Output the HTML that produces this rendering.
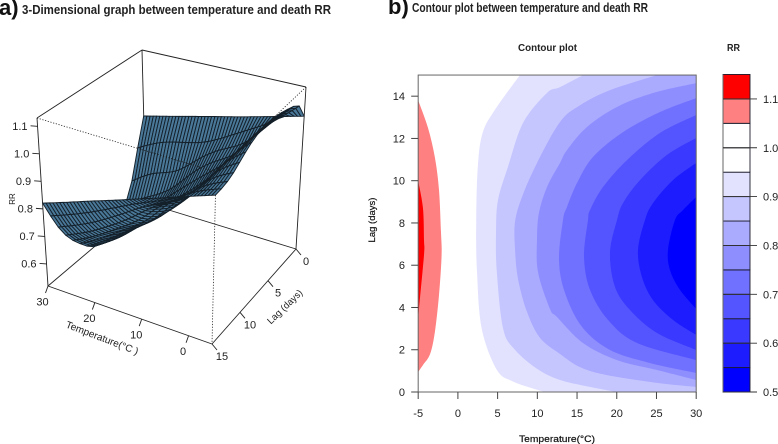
<!DOCTYPE html>
<html lang="en">
<head>
<meta charset="utf-8">
<title>Temperature and death RR</title>
<style>
html,body{margin:0;padding:0;background:#fff;}
svg{display:block;font-family:"Liberation Sans",sans-serif;}
</style>
</head>
<body>
<svg id="chart" xmlns="http://www.w3.org/2000/svg" width="778" height="444" viewBox="0 0 778 444">
  <rect width="778" height="444" fill="#fff"/>
  <text x="-1" y="15" font-size="22" font-weight="700" fill="#111">a)</text>
  <text x="22" y="14" font-size="12.5" font-weight="700" fill="#222" textLength="309" lengthAdjust="spacingAndGlyphs">3-Dimensional graph between temperature and death RR</text>
  <text x="388" y="14" font-size="22" font-weight="700" fill="#111">b)</text>
  <text x="412" y="12" font-size="12.5" font-weight="700" fill="#222" textLength="236" lengthAdjust="spacingAndGlyphs">Contour plot between temperature and death RR</text>
  <g id="panel3d"></g>
  <g id="panelContour"></g>
  <g id="panelBar"></g>
  <text x="518" y="51" font-size="10.5" font-weight="700" fill="#222" textLength="59" lengthAdjust="spacingAndGlyphs">Contour plot</text>
  <text x="727" y="51" font-size="10.5" font-weight="700" fill="#222" textLength="13" lengthAdjust="spacingAndGlyphs">RR</text>
  <text x="557" y="442" text-anchor="middle" font-size="9.5" fill="#111" stroke="#111" stroke-width="0.2" textLength="76" lengthAdjust="spacingAndGlyphs">Temperature(°C)</text>
  <text transform="translate(375,220) rotate(-90)" text-anchor="middle" font-size="9.5" fill="#111" stroke="#111" stroke-width="0.2">Lag (days)</text>
  <text transform="translate(15,199) rotate(-90)" text-anchor="middle" font-size="8" fill="#222">RR</text>
  <text transform="translate(101,341) rotate(21)" text-anchor="middle" font-size="10" fill="#222">Temperature(°C )</text>
  <text transform="translate(287,309) rotate(-44)" text-anchor="middle" font-size="9.5" fill="#222">Lag (days)</text>
</svg>
<script>
// ---------- data ----------
const surfaceTemps = [-5, 0, 5, 10, 15, 20, 25, 30];
const surfaceLags = [0, 1, 2, 4, 7, 10, 12.5, 15];
const rrLag0 = [1.02, 0.998, 0.976, 0.954, 0.933, 0.911, 0.889, 0.867];
const rrLag1 = [1.08, 1.005, 0.95, 0.90, 0.855, 0.83, 0.805, 0.76];
const rrLag2 = [1.10, 1.01, 0.92, 0.87, 0.81, 0.74, 0.705, 0.65];
const rrLag4 = [1.12, 1.02, 0.905, 0.825, 0.75, 0.67, 0.595, 0.55];
const rrLag7 = [1.13, 1.02, 0.90, 0.80, 0.715, 0.645, 0.57, 0.51];
const rrLag10 = [1.10, 1.02, 0.905, 0.84, 0.75, 0.685, 0.625, 0.575];
const rrLag12 = [1.06, 1.01, 0.93, 0.88, 0.82, 0.76, 0.71, 0.67];
const rrLag15 = [1.048, 1.016, 0.983, 0.951, 0.918, 0.886, 0.853, 0.821];
const surfaceRows = [rrLag0, rrLag1, rrLag2, rrLag4, rrLag7, rrLag10, rrLag12, rrLag15];

const zTicks = [0.6, 0.7, 0.8, 0.9, 1.0, 1.1];
const tempTicks3d = [0, 10, 20, 30];
const lagTicks3d = [0, 5, 10, 15];
const xTicks = [-5, 0, 5, 10, 15, 20, 25, 30];
const yTicks = [0, 2, 4, 6, 8, 10, 12, 14];
const keyTicks = [0.5, 0.6, 0.7, 0.8, 0.9, 1.0, 1.1];
const keyBreaks = [0.5, 0.55, 0.6, 0.65, 0.7, 0.75, 0.8, 0.85, 0.9, 0.95, 1.0, 1.05, 1.1, 1.15];
const keyColors = ["#0000FF", "#1C1CFF", "#3939FF", "#5555FF", "#7171FF", "#8E8EFF", "#AAAAFF", "#C6C6FF", "#E2E2FF", "#FFFFFF", "#FFFFFF", "#FF8080", "#FF0000"];

// contour lines as [temperature, lag] pairs
const contour095 = [[7.8,15],[4.65,13.35],[3.1,12.25],[2.5,10.65],[2.3,8],[2.4,5.7],[3,3],[4.9,1.05],[6.9,0.5],[10,0.1],[11,0]];
const contour090 = [[15.75,15],[12.85,14.43],[11.2,14.15],[8.2,12.73],[6.3,10.65],[5.05,9.09],[4.8,7.57],[4.9,5.68],[5.7,2.98],[7.2,1.99],[10,1.09],[12.85,0.57],[16.6,0.24],[20,0]];
const contour085 = [[25.07,15],[19.15,14.29],[15.4,13.58],[12.85,12.78],[9.96,10.84],[8.07,9.23],[7.19,8.05],[7.19,6.77],[7.57,5.35],[8.7,3.79],[10.34,2.56],[12.85,1.8],[15.37,1.18],[18.77,0.8],[25.07,0.43],[30,0.24]];
const contour080 = [[30,14.62],[24.56,14.15],[20.03,13.49],[16.25,12.54],[13.73,11.45],[12.85,10.84],[11.22,9.7],[10.2,8.47],[9.96,7.24],[10.08,5.68],[11.6,3.93],[12.48,3.55],[15.75,2.32],[20.03,1.51],[25.07,1.04],[30,0.57]];
const contour075 = [[30,13.91],[25.45,13.25],[20.79,12.3],[17,11.12],[15,9.89],[13.73,8.76],[13.23,8.14],[12.73,6.25],[13.48,4.69],[15.62,3.08],[19.15,1.99],[24.2,1.37],[30,0.9]];
const contour070 = [[30,13.11],[25.45,12.26],[21.3,10.98],[18.27,9.7],[16.63,8.61],[16.38,8.14],[15.88,6.39],[16.63,4.83],[18.9,3.41],[22.55,2.32],[30,1.51]];
const contour065 = [[30,12.02],[26.33,11.22],[22.93,10.03],[20.79,8.94],[20.03,8.14],[19.15,6.58],[19.78,4.97],[21.67,3.88],[25.07,2.79],[30,1.99]];
const contour060 = [[30,10.84],[27.08,10.03],[24.56,8.94],[23.56,8.14],[22.67,6.72],[23.18,5.44],[24.56,4.35],[27.08,3.41],[30,2.7]];
const contour055 = [[30,9.23],[28.34,8.61],[27.33,8.14],[26.45,6.72],[26.7,5.77],[27.96,4.83],[30,3.93]];
const contour105 = [[-5,13.8],[-3.76,12.5],[-2.9,11.1],[-2.38,9.56],[-2.13,7.57],[-2.05,6.48],[-2.38,4.59],[-2.9,2.84],[-3.5,1.8],[-4.4,1.28],[-5,0.95]];
const contour110 = [[-5,9.99],[-4.4,8.7],[-4.27,7.19],[-4.27,6.48],[-4.9,3.93],[-5,3.55]];

// ---------- helpers ----------
const NS = "http://www.w3.org/2000/svg";
function mk(parent, tag, attrs, txt) {
  const el = document.createElementNS(NS, tag);
  for (const k in attrs) el.setAttribute(k, attrs[k]);
  if (txt !== undefined) el.textContent = txt;
  parent.appendChild(el);
  return el;
}
function fmt(v) { return v.toFixed(1); }

// ---------- 3D projection ----------
const tMin = -5, tMax = 30, lMin = 0, lMax = 15, zMin = 0.52, zMax = 1.13;
const boxFarBottom = [146, 203], boxFarTop = [142, 50];
const boxLeftBottom = [48, 286], boxLeftTop = [37, 118];
const boxRightBottom = [296, 249], boxRightTop = [306, 87];
const boxNearBottom = [212, 344], boxNearTop = [216, 172];
function mix(a, b, f) { return [a[0] + (b[0] - a[0]) * f, a[1] + (b[1] - a[1]) * f]; }
function project(T, L, Z) {
  const t = (T - tMin) / (tMax - tMin), l = (L - lMin) / (lMax - lMin), z = (Z - zMin) / (zMax - zMin);
  const bottom = mix(mix(boxRightBottom, boxNearBottom, l), mix(boxFarBottom, boxLeftBottom, l), t);
  const top = mix(mix(boxRightTop, boxNearTop, l), mix(boxFarTop, boxLeftTop, l), t);
  return mix(bottom, top, z);
}
function splineAt(xs, ys, x) {
  const n = xs.length, m = new Array(n).fill(0), c = new Array(n).fill(0), d = new Array(n).fill(0);
  for (let i = 1; i < n - 1; i++) {
    const h0 = xs[i] - xs[i - 1], h1 = xs[i + 1] - xs[i];
    const b = 2 * (h0 + h1) - h0 * c[i - 1];
    c[i] = h1 / b;
    d[i] = (6 * ((ys[i + 1] - ys[i]) / h1 - (ys[i] - ys[i - 1]) / h0) - h0 * d[i - 1]) / b;
  }
  for (let i = n - 2; i > 0; i--) m[i] = d[i] - c[i] * m[i + 1];
  let k = 0;
  while (k < n - 2 && x > xs[k + 1]) k++;
  const h = xs[k + 1] - xs[k], a = (xs[k + 1] - x) / h, b = (x - xs[k]) / h;
  return a * ys[k] + b * ys[k + 1] + ((a * a * a - a) * m[k] + (b * b * b - b) * m[k + 1]) * h * h / 6;
}
function surfaceAt(T, L) {
  const col = surfaceRows.map(function (row) { return splineAt(surfaceTemps, row, T); });
  return splineAt(surfaceLags, col, L);
}

// ---------- draw 3D panel ----------
(function () {
  const g = document.getElementById("panel3d");
  const solid = { stroke: "#222", "stroke-width": 0.9, fill: "none" };
  function boxLine(parent, a, b, attrs, name) {
    const el = mk(parent, "line", Object.assign({ x1: a[0], y1: a[1], x2: b[0], y2: b[1] }, attrs));
    
    
    return el;
  }
  boxLine(g, boxFarBottom, boxLeftBottom, solid, "box-floor-edge");
  boxLine(g, boxFarBottom, boxRightBottom, solid, "box-floor-edge");
  boxLine(g, boxFarBottom, boxFarTop, solid, "box-back-vertical");
  boxLine(g, boxLeftBottom, boxLeftTop, solid, "box-left-vertical");
  boxLine(g, boxRightBottom, boxRightTop, solid, "box-right-vertical");
  boxLine(g, boxLeftTop, boxFarTop, solid, "box-top-edge");
  boxLine(g, boxFarTop, boxRightTop, solid, "box-top-edge");
  boxLine(g, boxLeftBottom, boxNearBottom, solid, "temperature-axis-line");
  boxLine(g, boxNearBottom, boxRightBottom, solid, "lag-axis-line");

  const nT = 49, nL = 15;
  const grid = [];
  for (let i = 0; i <= nT; i++) {
    const T = tMax - (tMax - tMin) * i / nT;
    const col = surfaceRows.map(function (row) { return splineAt(surfaceTemps, row, T); });
    const line = [];
    for (let j = 0; j <= nL; j++) {
      const L = lMin + (lMax - lMin) * j / nL;
      line.push(project(T, L, splineAt(surfaceLags, col, L)));
    }
    grid.push(line);
  }
  const mesh = mk(g, "g", { stroke: "#14202a", "stroke-width": 0.95, "stroke-linejoin": "round", fill: "#4a7898" });
  
  
  for (let i = 0; i < nT; i++) {
    for (let j = 0; j < nL; j++) {
      const pts = [grid[i][j], grid[i + 1][j], grid[i + 1][j + 1], grid[i][j + 1]]
        .map(function (p) { return p[0].toFixed(1) + "," + p[1].toFixed(1); }).join(" ");
      const f = mk(mesh, "polygon", { points: pts });
      
      
    }
  }

  const dotted = { stroke: "#222", "stroke-width": 0.8, "stroke-dasharray": "1.2 1.6", fill: "none" };
  boxLine(g, boxLeftTop, boxNearTop, dotted, "box-front-top-edge");
  boxLine(g, boxRightTop, boxNearTop, dotted, "box-front-top-edge");
  boxLine(g, project(tMin, lMax, surfaceAt(tMin, lMax)), boxNearBottom, dotted, "box-front-vertical");

  const tickStroke = { stroke: "#222", "stroke-width": 0.9 };
  const labelStyle = { "font-size": 11, fill: "#222" };
  zTicks.forEach(function (v) {
    const p = project(tMax, lMax, v);
    boxLine(g, p, [p[0] - 7, p[1] - 0.5], tickStroke, "z-axis-tick");
    const t = mk(g, "text", Object.assign({ x: p[0] - 10, y: p[1] + 3.5, "text-anchor": "end" }, labelStyle), fmt(v));
    
    
  });
  tempTicks3d.forEach(function (v) {
    const p = project(v, lMax, zMin);
    boxLine(g, p, [p[0] - 2.5, p[1] + 7], tickStroke, "temperature-axis-tick");
    const t = mk(g, "text", Object.assign({ x: p[0] - 5.5, y: p[1] + 19.5, "text-anchor": "middle" }, labelStyle), String(v));
    
    
  });
  lagTicks3d.forEach(function (v) {
    const p = project(tMin, v, zMin);
    boxLine(g, p, [p[0] + 5, p[1] + 6], tickStroke, "lag-axis-tick");
    const t = mk(g, "text", Object.assign({ x: p[0] + 10, y: p[1] + 16, "text-anchor": "middle" }, labelStyle), String(v));
    
    
  });
})();

// ---------- contour panel ----------
function xScale(T) { return 457.9 + 7.943 * T; }
function yScale(L) { return 392 - 21.13 * L; }
function smoothPath(line) {
  const p = line.map(function (q) { return [xScale(q[0]), yScale(q[1])]; });
  let d = "M" + p[0][0].toFixed(1) + " " + p[0][1].toFixed(1);
  for (let i = 0; i < p.length - 1; i++) {
    const a = p[Math.max(i - 1, 0)], b = p[i], c = p[i + 1], e = p[Math.min(i + 2, p.length - 1)];
    const c1x = b[0] + (c[0] - a[0]) / 6, c1y = b[1] + (c[1] - a[1]) / 6;
    const c2x = c[0] - (e[0] - b[0]) / 6, c2y = c[1] - (e[1] - b[1]) / 6;
    d += "C" + c1x.toFixed(1) + " " + c1y.toFixed(1) + " " + c2x.toFixed(1) + " " + c2y.toFixed(1) + " " + c[0].toFixed(1) + " " + c[1].toFixed(1);
  }
  return d;
}
(function () {
  const g = document.getElementById("panelContour");
  const defs = mk(g, "defs", {});
  const clip = mk(defs, "clipPath", { id: "plotClip" });
  mk(clip, "rect", { x: xScale(-5), y: yScale(15), width: xScale(30) - xScale(-5), height: yScale(0) - yScale(15) });
  const bands = mk(g, "g", { "clip-path": "url(#plotClip)" });
  
  
  function region(line, color, name, closeRight) {
    let d = smoothPath(line);
    if (closeRight) {
      d += "L" + xScale(31).toFixed(1) + " " + yScale(line[line.length - 1][1]).toFixed(1);
      d += "L" + xScale(31).toFixed(1) + " " + yScale(line[0][1]).toFixed(1);
    }
    d += "Z";
    const el = mk(bands, "path", { d: d, fill: color });
    
    
  }
  region(contour095, keyColors[8], "band-0-90-to-0-95", true);
  region(contour090, keyColors[7], "band-0-85-to-0-90", true);
  region(contour085, keyColors[6], "band-0-80-to-0-85", true);
  region(contour080, keyColors[5], "band-0-75-to-0-80", true);
  region(contour075, keyColors[4], "band-0-70-to-0-75", true);
  region(contour070, keyColors[3], "band-0-65-to-0-70", true);
  region(contour065, keyColors[2], "band-0-60-to-0-65", true);
  region(contour060, keyColors[1], "band-0-55-to-0-60", true);
  region(contour055, keyColors[0], "band-0-50-to-0-55", true);
  region(contour105, keyColors[11], "band-1-05-to-1-10", false);
  region(contour110, keyColors[12], "band-1-10-to-1-15", false);

  const frame = mk(g, "rect", { x: xScale(-5), y: yScale(15), width: xScale(30) - xScale(-5), height: yScale(0) - yScale(15), fill: "none", stroke: "#666", "stroke-width": 1 });
  
  

  xTicks.forEach(function (v) {
    const x = xScale(v);
    const l = mk(g, "line", { x1: x, x2: x, y1: yScale(0), y2: yScale(0) + 7, stroke: "#444", "stroke-width": 1 });
    
    
    const t = mk(g, "text", { x: x, y: 417, "text-anchor": "middle", "font-size": 11, fill: "#222" }, String(v));
    
    
  });
  yTicks.forEach(function (v) {
    const y = yScale(v);
    const l = mk(g, "line", { x1: xScale(-5) - 7, x2: xScale(-5), y1: y, y2: y, stroke: "#444", "stroke-width": 1 });
    
    
    const t = mk(g, "text", { x: 405, y: y + 4, "text-anchor": "end", "font-size": 11, fill: "#222" }, String(v));
    
    
  });
})();

// ---------- colour key ----------
function keyScale(v) { return 392 - (v - 0.5) * 488.5; }
(function () {
  const g = document.getElementById("panelBar");
  keyColors.forEach(function (c, i) {
    const y0 = keyScale(keyBreaks[i + 1]), y1 = keyScale(keyBreaks[i]);
    const r = mk(g, "rect", { x: 723, y: y0, width: 27, height: y1 - y0, fill: c, stroke: "#1a1a2a", "stroke-width": 0.9 });
    
    
  });
  const edge = mk(g, "line", { x1: 723, x2: 723, y1: keyScale(1.15), y2: keyScale(0.5), stroke: "#666", "stroke-width": 1 });
  
  
  keyTicks.forEach(function (v) {
    const y = keyScale(v);
    const l = mk(g, "line", { x1: 723, x2: 757, y1: y, y2: y, stroke: "#333", "stroke-width": 0.9 });
    
    
    const t = mk(g, "text", { x: 763, y: y + 4, "font-size": 11, fill: "#222" }, fmt(v));
    
    
  });
})();
</script>
</body>
</html>
